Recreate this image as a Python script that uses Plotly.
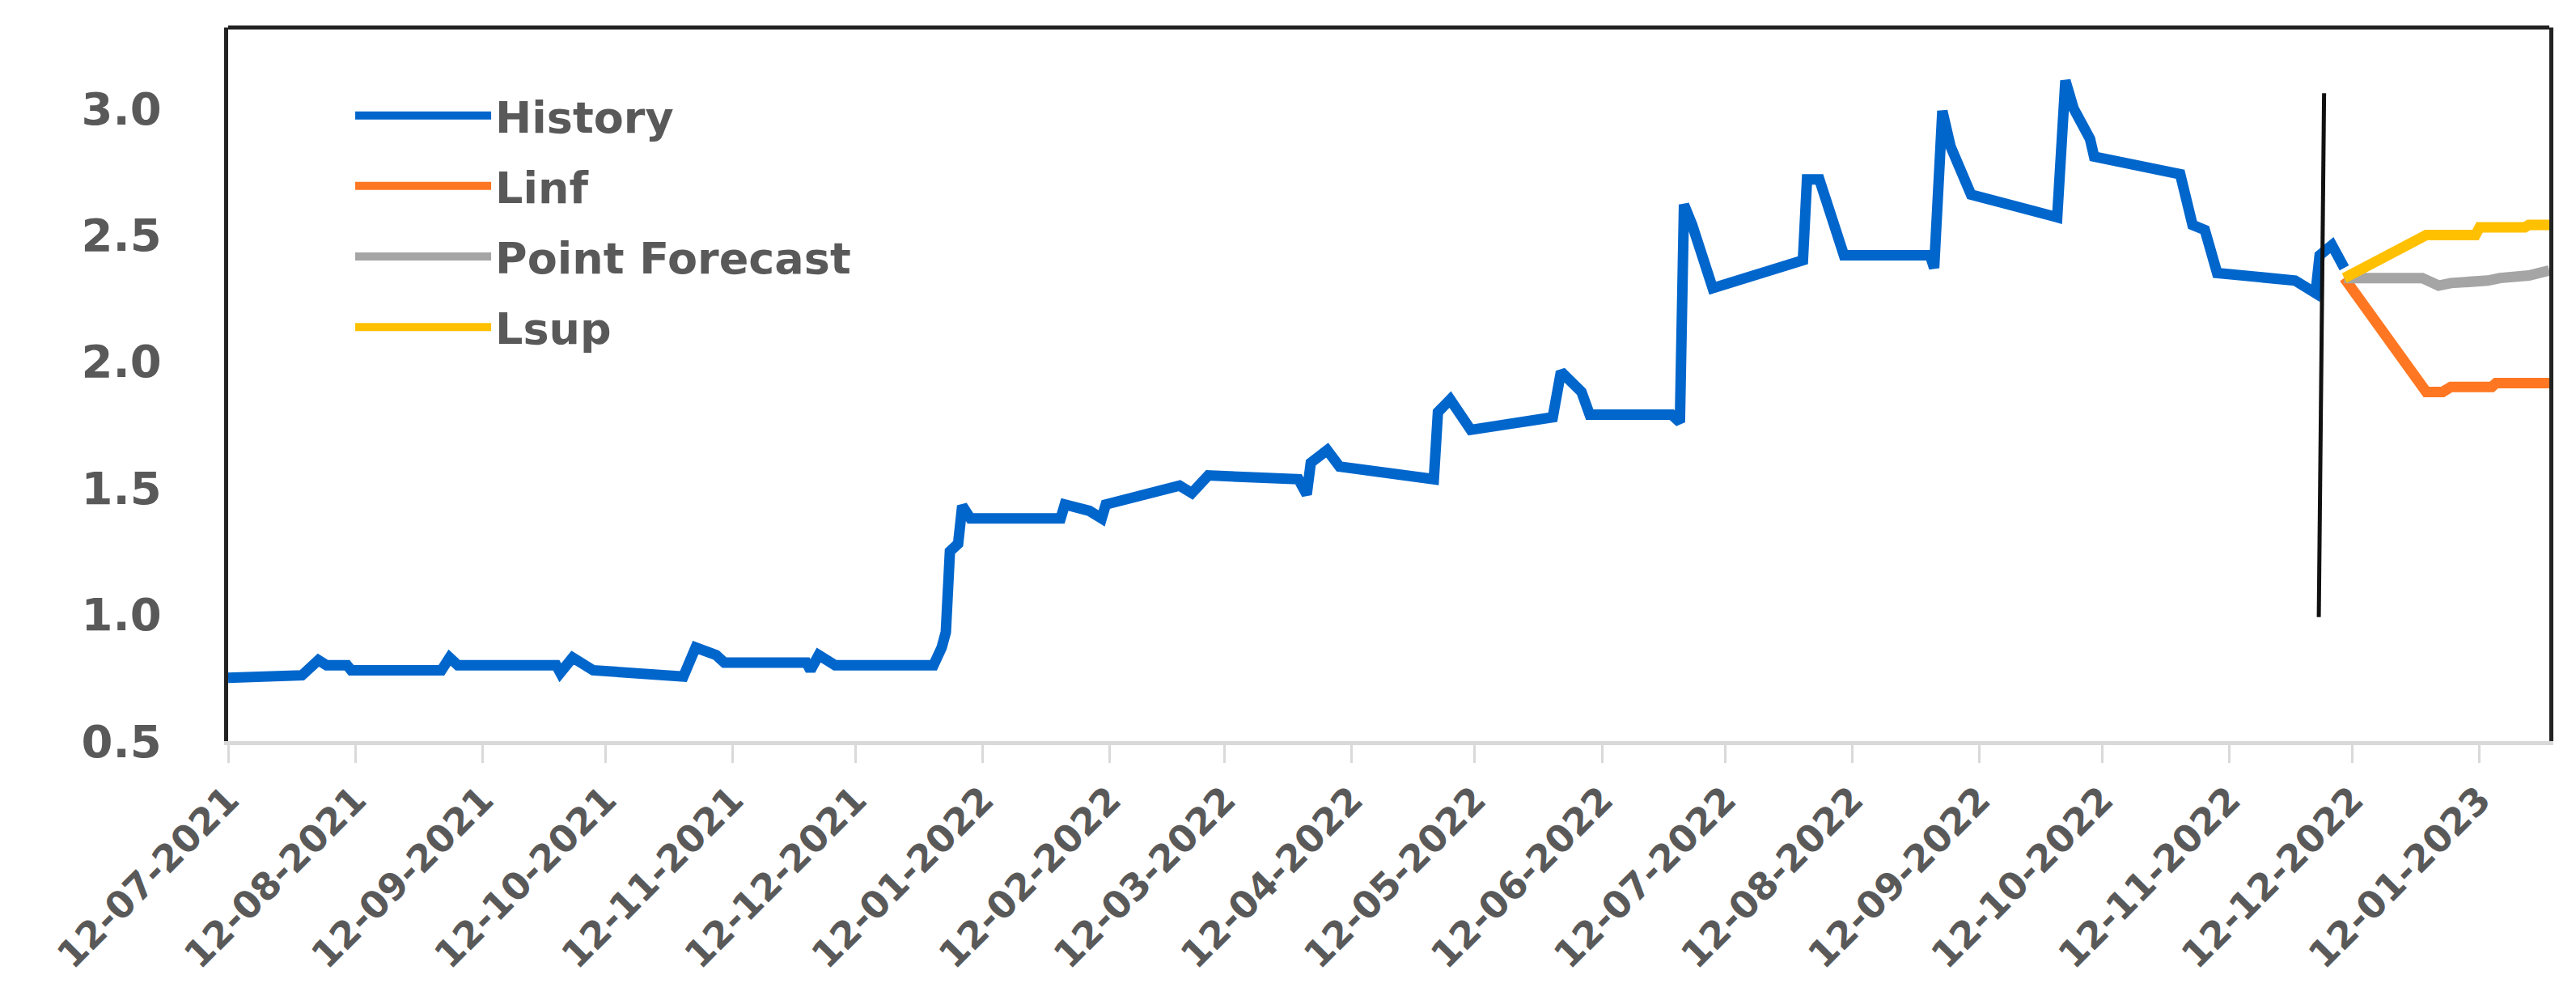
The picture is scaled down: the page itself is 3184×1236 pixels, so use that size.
import plotly.graph_objects as go

# ---------------- data ----------------
hist_dates = [
    "2021-07-12", "2021-07-30", "2021-08-03", "2021-08-05", "2021-08-10", "2021-08-11",
    "2021-09-02", "2021-09-04", "2021-09-06", "2021-09-30", "2021-10-01", "2021-10-04",
    "2021-10-09", "2021-10-31", "2021-11-03", "2021-11-08", "2021-11-10", "2021-11-30",
    "2021-12-01", "2021-12-03", "2021-12-07", "2021-12-31", "2022-01-02", "2022-01-03",
    "2022-01-04", "2022-01-06", "2022-01-07", "2022-01-09", "2022-01-31", "2022-02-01",
    "2022-02-07", "2022-02-10", "2022-02-11", "2022-03-01", "2022-03-04", "2022-03-08",
    "2022-03-30", "2022-04-01", "2022-04-02", "2022-04-06", "2022-04-09", "2022-05-02",
    "2022-05-03", "2022-05-06", "2022-05-11", "2022-05-31", "2022-06-02", "2022-06-07",
    "2022-06-09", "2022-06-29", "2022-07-01", "2022-07-02", "2022-07-04", "2022-07-09",
    "2022-07-31", "2022-08-01", "2022-08-04", "2022-08-10", "2022-08-31", "2022-09-01",
    "2022-09-03", "2022-09-05", "2022-09-10", "2022-10-01", "2022-10-03", "2022-10-05",
    "2022-10-09", "2022-10-10", "2022-10-31", "2022-11-01", "2022-11-02", "2022-11-03",
    "2022-11-06", "2022-11-08", "2022-11-09", "2022-11-28", "2022-12-03", "2022-12-04",
    "2022-12-07", "2022-12-10",
]
hist_values = [
    0.75, 0.76, 0.82, 0.80, 0.80, 0.78,
    0.78, 0.83, 0.80, 0.80, 0.77, 0.83,
    0.78, 0.755, 0.87, 0.84, 0.81, 0.81,
    0.78, 0.84, 0.80, 0.80, 0.87, 0.93,
    1.25, 1.28, 1.43, 1.38, 1.38, 1.435,
    1.41, 1.38, 1.435, 1.51, 1.48, 1.55,
    1.535, 1.475, 1.60, 1.65, 1.585, 1.535,
    1.80, 1.85, 1.73, 1.78, 1.96, 1.88,
    1.79, 1.79, 1.76, 2.62, 2.54, 2.29,
    2.40, 2.72, 2.72, 2.42, 2.42, 2.37,
    2.99, 2.85, 2.66, 2.57, 3.11, 3.00,
    2.88, 2.81, 2.74, 2.67, 2.62, 2.54,
    2.52, 2.41, 2.35, 2.32, 2.27, 2.42,
    2.46, 2.37,
]

linf_dates = ["2022-12-10", "2022-12-30", "2023-01-03", "2023-01-05", "2023-01-15", "2023-01-16", "2023-01-29"]
linf_values = [2.33, 1.88, 1.88, 1.90, 1.90, 1.915, 1.915]

pf_dates = ["2022-12-10", "2022-12-29", "2023-01-02", "2023-01-05", "2023-01-14", "2023-01-17", "2023-01-24", "2023-01-29"]
pf_values = [2.33, 2.33, 2.30, 2.31, 2.32, 2.33, 2.34, 2.36]

lsup_dates = ["2022-12-10", "2022-12-30", "2023-01-11", "2023-01-12", "2023-01-23", "2023-01-24", "2023-01-29"]
lsup_values = [2.33, 2.50, 2.50, 2.53, 2.53, 2.54, 2.54]

# forecast-origin marker line
marker_dates = ["2022-12-05 02:00", "2022-12-03 19:00"]
marker_values = [3.06, 0.99]

y_ticks = [0.5, 1.0, 1.5, 2.0, 2.5, 3.0]

# ---------------- figure ----------------
FONT = "DejaVu Sans"
GRAY_TXT = "#595959"
LW = 13

fig = go.Figure()
fig.add_trace(go.Scatter(x=hist_dates, y=hist_values, mode="lines", name="History",
                         legendgroup="a", line=dict(color="#0066CC", width=LW)))
fig.add_trace(go.Scatter(x=linf_dates, y=linf_values, mode="lines", name="Linf",
                         legendgroup="b", line=dict(color="#FF7722", width=LW)))
fig.add_trace(go.Scatter(x=pf_dates, y=pf_values, mode="lines", name="Point Forecast",
                         legendgroup="c", line=dict(color="#A5A5A5", width=LW)))
fig.add_trace(go.Scatter(x=lsup_dates, y=lsup_values, mode="lines", name="Lsup",
                         legendgroup="d", line=dict(color="#FFC000", width=LW)))
fig.add_trace(go.Scatter(x=marker_dates, y=marker_values, mode="lines", showlegend=False,
                         line=dict(color="#111111", width=5)))

fig.update_layout(
    width=3184, height=1236,
    margin=dict(l=274, r=41, t=26, b=328),
    paper_bgcolor="white", plot_bgcolor="white",
    font=dict(family=FONT, color=GRAY_TXT),
    legend=dict(x=0.053, y=0.924, xanchor="left", yanchor="top",
                bgcolor="rgba(0,0,0,0)",
                font=dict(size=54, color=GRAY_TXT, family=FONT, weight="bold"),
                itemwidth=168, tracegroupgap=14),
    shapes=[dict(type="line", xref="paper", yref="paper", x0=0, x1=1, y0=1, y1=1,
                 line=dict(color="#222222", width=5))],
)
fig.update_xaxes(
    type="date", range=["2021-07-12", "2023-01-29"],
    tick0="2021-07-12", dtick="M1", tickformat="%d-%m-%Y", tickangle=-45,
    tickfont=dict(size=46, color=GRAY_TXT, family=FONT, weight="bold"),
    showgrid=False, zeroline=False,
    showline=True, linecolor="#D9D9D9", linewidth=5,
    ticks="outside", ticklen=22, tickwidth=3, tickcolor="#D9D9D9",
)
fig.update_yaxes(
    range=[0.5, 3.32], tickvals=y_ticks, tickformat=".1f",
    tickfont=dict(size=56, color=GRAY_TXT, family=FONT, weight="bold"),
    showgrid=False, zeroline=False,
    showline=True, linecolor="#222222", linewidth=5, mirror=True,
    ticks="", ticklabelstandoff=66,
)

fig.write_html("out.html")
